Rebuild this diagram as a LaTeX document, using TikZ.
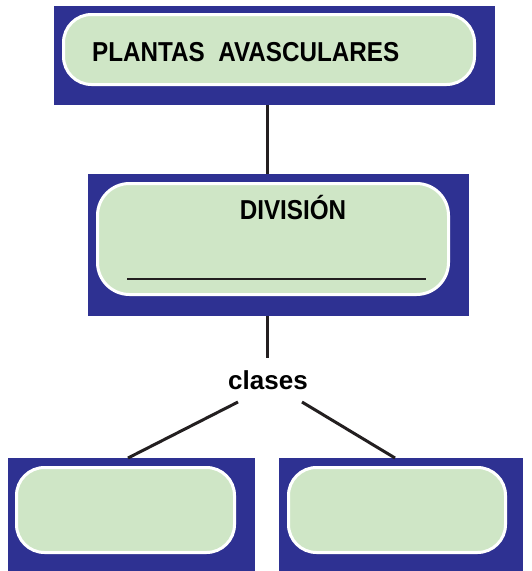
\documentclass[tikz,border=0pt]{standalone}
\usepackage{fontspec}
\setmainfont{Liberation Sans}
\definecolor{navy}{RGB}{46,49,146}
\definecolor{pale}{RGB}{207,230,198}
\definecolor{ink}{RGB}{35,31,32}
\begin{document}
\begin{tikzpicture}[x=1pt,y=-1pt,
  outerbox/.style={fill=navy,draw=none,anchor=north west,inner sep=0pt},
  innerbox/.style={fill=pale,draw=white,line width=3pt,rounded corners=28pt,anchor=north west,inner sep=0pt},
  label/.style={font=\bfseries\fontsize{24}{28}\selectfont,text=black,inner sep=0pt},
  link/.style={draw=ink,line width=3pt}]
\useasboundingbox (0,0) rectangle (531,571);
% top
\node[outerbox,minimum width=441pt,minimum height=99pt] (topo) at (54,6) {};
\node[innerbox,minimum width=411pt,minimum height=70pt] (topi) at (62,13) {};
\node[label,anchor=base west] (toptext) at (92,61) {\scalebox{1.01}[1.14]{PLANTAS\ \ AVASCULARES}};
% division
\node[outerbox,minimum width=381pt,minimum height=142pt] (divo) at (88,174) {};
\node[innerbox,rounded corners=32pt,minimum width=351pt,minimum height=111pt] (divi) at (96,182) {};
\node[label,anchor=base] (divtext) at (293,219) {\scalebox{1.01}[1.14]{DIVISIÓN}};
\coordinate (ulA) at (127,279);
\coordinate (ulB) at (426,279);
\draw[ink,line width=2.2pt] (ulA) -- (ulB);
% clases
\node[label,font=\bfseries\fontsize{26}{28}\selectfont,anchor=base] (cl) at (268,389) {clases};
% bottom
\node[outerbox,minimum width=247pt,minimum height=113pt] (blo) at (8,458) {};
\node[innerbox,minimum width=218pt,minimum height=85pt] (bli) at (15,466) {};
\node[outerbox,minimum width=244pt,minimum height=113pt] (bro) at (279,458) {};
\node[innerbox,minimum width=217pt,minimum height=85pt] (bri) at (287,466) {};
% connectors
\coordinate (c1) at (267,105);
\coordinate (c2) at (267,174);
\coordinate (c3) at (267,316);
\coordinate (c4) at (267,358);
\coordinate (l1) at (238,402);
\coordinate (l2) at (128,458);
\coordinate (r1) at (302,402);
\coordinate (r2) at (395,458);
\draw[link] (c1) -- (c2);
\draw[link] (c3) -- (c4);
\draw[link] (l1) -- (l2);
\draw[link] (r1) -- (r2);
\end{tikzpicture}
\end{document}
